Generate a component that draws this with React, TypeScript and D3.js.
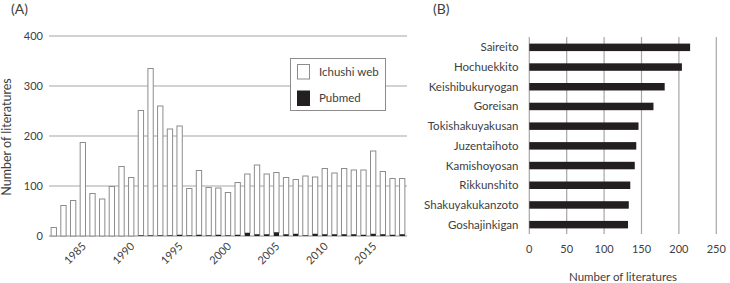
import React from "react";
import * as d3 from "d3";

const years: number[] = [
  1982, 1983, 1984, 1985, 1986, 1987, 1988, 1989, 1990, 1991, 1992, 1993, 1994,
  1995, 1996, 1997, 1998, 1999, 2000, 2001, 2002, 2003, 2004, 2005, 2006, 2007,
  2008, 2009, 2010, 2011, 2012, 2013, 2014, 2015, 2016, 2017, 2018,
];
const ichushi: number[] = [
  17, 61, 71, 187, 85, 74, 99, 139, 117, 250, 334, 259, 213, 218, 94, 129, 96,
  94, 86, 105, 118, 139, 121, 120, 114, 109, 119, 114, 132, 123, 132, 129, 130,
  166, 126, 113, 112,
];
const pubmed: number[] = [
  0, 0, 0, 0, 0, 0, 0, 0, 0, 1, 1, 1, 1, 2, 1, 2, 1, 2, 1, 2, 6, 3, 3, 7, 3, 4,
  1, 4, 3, 3, 3, 3, 2, 4, 3, 2, 3,
];
const yearTicks: number[] = [1985, 1990, 1995, 2000, 2005, 2010, 2015];
const countTicksA: number[] = [0, 100, 200, 300, 400];

const kampo: string[] = [
  "Saireito", "Hochuekkito", "Keishibukuryogan", "Goreisan", "Tokishakuyakusan",
  "Juzentaihoto", "Kamishoyosan", "Rikkunshito", "Shakuyakukanzoto", "Goshajinkigan",
];
const kampoCounts: number[] = [215, 204, 181, 166, 146, 143, 141, 135, 133, 132];
const countTicksB: number[] = [0, 50, 100, 150, 200, 250];

const FONT = "Lato, 'Open Sans', sans-serif";
const TEXT = "#404040";
const GRID = "#a6a6a6";
const DARK = "#231f20";

export default function App() {
  // Panel A scales
  const xA = d3.scaleBand<number>().domain(years).range([49, 407]).paddingInner(0.45).paddingOuter(0.22);
  const yA = d3.scaleLinear().domain([0, 400]).range([236, 36]);
  // Panel B scales
  const xB = d3.scaleLinear().domain([0, 250]).range([529.3, 716.3]);
  const yB = d3.scaleBand<string>().domain(kampo).range([37.5, 234.5]).paddingInner(0.62).paddingOuter(0.31);

  return (
    <svg
      width={730}
      height={283}
      style={{ position: "absolute", left: 0, top: 0, background: "#fff" }}
      fontFamily={FONT}
    >
      <rect x={0} y={0} width={730} height={283} fill="#fff" />
      {/* Panel labels */}
      <text x={11} y={14} fontSize={14} fill={TEXT}>(A)</text>
      <text x={433} y={14} fontSize={14} fill={TEXT}>(B)</text>

      {/* Panel A gridlines */}
      {countTicksA.map((t) => (
        <g key={"ga" + t}>
          <line x1={49} x2={407} y1={yA(t)} y2={yA(t)} stroke={t === 0 ? "#8c8c8c" : GRID} strokeWidth={1.2} />
          <text x={43} y={yA(t)} dy="0.35em" textAnchor="end" fontSize={11} fill={TEXT}>{t}</text>
        </g>
      ))}
      <text
        transform={`translate(11,137) rotate(-90)`}
        textAnchor="middle"
        fontSize={12.5}
        fill={TEXT}
      >
        Number of literatures
      </text>

      {/* Panel A bars */}
      {years.map((yr, i) => {
        const x = xA(yr)!;
        const w = xA.bandwidth();
        const p = pubmed[i];
        const ic = ichushi[i];
        return (
          <g key={"b" + yr}>
            <rect
              x={x}
              y={yA(p + ic)}
              width={w}
              height={yA(p) - yA(p + ic)}
              fill="#fff"
              stroke="#8c8c8c"
              strokeWidth={1}
            />
            {p > 0 && (
              <rect x={x} y={yA(p)} width={w} height={yA(0) - yA(p)} fill={DARK} />
            )}
          </g>
        );
      })}

      {/* Year tick labels */}
      {yearTicks.map((yr) => {
        const cx = xA(yr)! + xA.bandwidth() / 2;
        return (
          <text
            key={"yt" + yr}
            transform={`translate(${cx + 4},247) rotate(-45)`}
            textAnchor="end"
            fontSize={11}
            fill={TEXT}
          >
            {yr}
          </text>
        );
      })}

      {/* Legend */}
      <rect x={290.5} y={58.5} width={95} height={52} fill="#fff" stroke="#8c8c8c" strokeWidth={1} />
      <rect x={297.5} y={64.5} width={12} height={14.5} fill="#fff" stroke="#8c8c8c" strokeWidth={1} />
      <rect x={297} y={90.5} width={13} height={15.5} fill={DARK} />
      <text x={319} y={75.5} fontSize={11.5} fill={TEXT}>Ichushi web</text>
      <text x={319} y={102} fontSize={11.5} fill={TEXT}>Pubmed</text>

      {/* Panel B gridlines */}
      {countTicksB.map((t) => (
        <g key={"gb" + t}>
          <line x1={xB(t)} x2={xB(t)} y1={37} y2={234} stroke={GRID} strokeWidth={1.2} />
          <text x={xB(t)} y={253} textAnchor="middle" fontSize={11} fill={TEXT}>{t}</text>
        </g>
      ))}
      {/* Panel B bars */}
      {kampo.map((k, i) => (
        <g key={"k" + k}>
          <rect
            x={xB(0)}
            y={yB(k)!}
            width={xB(kampoCounts[i]) - xB(0)}
            height={yB.bandwidth()}
            fill={DARK}
          />
          <text x={518.5} y={yB(k)! + yB.bandwidth() / 2} dy="0.35em" textAnchor="end" fontSize={11.5} fill={TEXT}>
            {k}
          </text>
        </g>
      ))}
      <text x={623} y={281} textAnchor="middle" fontSize={11.5} fill={TEXT}>
        Number of literatures
      </text>
    </svg>
  );
}
